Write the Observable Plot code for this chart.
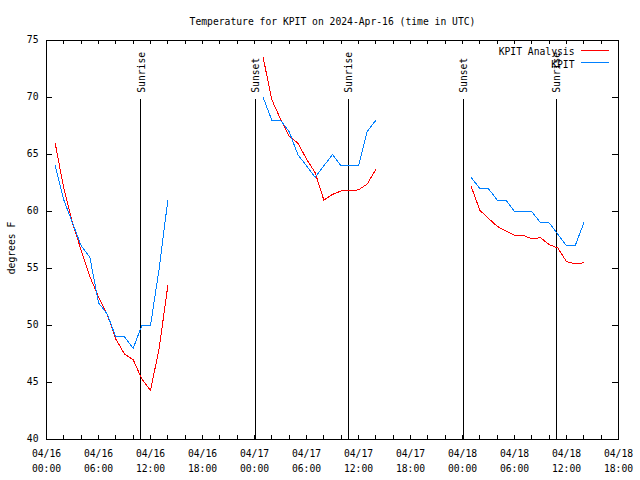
<!DOCTYPE html>
<html><head><meta charset="utf-8">
<script src="https://cdn.jsdelivr.net/npm/d3@7"></script>
<script src="https://cdn.jsdelivr.net/npm/@observablehq/plot@0.6"></script>
<style>body{margin:0;background:#fff} #chart{position:relative;width:640px;height:480px}</style>
</head><body><div id="chart"></div>
<script>
const times = [
 "2024-04-16T01:00Z","2024-04-16T02:00Z","2024-04-16T03:00Z","2024-04-16T04:00Z","2024-04-16T05:00Z","2024-04-16T06:00Z","2024-04-16T07:00Z",
 "2024-04-16T08:00Z","2024-04-16T09:00Z","2024-04-16T10:00Z","2024-04-16T11:00Z","2024-04-16T12:00Z","2024-04-16T13:00Z","2024-04-16T14:00Z",
 "2024-04-17T01:00Z","2024-04-17T02:00Z","2024-04-17T03:00Z","2024-04-17T04:00Z","2024-04-17T05:00Z","2024-04-17T06:00Z","2024-04-17T07:00Z",
 "2024-04-17T08:00Z","2024-04-17T09:00Z","2024-04-17T10:00Z","2024-04-17T11:00Z","2024-04-17T12:00Z","2024-04-17T13:00Z","2024-04-17T14:00Z",
 "2024-04-18T01:00Z","2024-04-18T02:00Z","2024-04-18T03:00Z","2024-04-18T04:00Z","2024-04-18T05:00Z","2024-04-18T06:00Z","2024-04-18T07:00Z",
 "2024-04-18T08:00Z","2024-04-18T09:00Z","2024-04-18T10:00Z","2024-04-18T11:00Z","2024-04-18T12:00Z","2024-04-18T13:00Z","2024-04-18T14:00Z"
];
const analysisTemps = [
 66.0, 62.0, 59.0, 56.6, 54.3, 52.5, 51.0, 48.8, 47.5, 47.0, 45.3, 44.3, 48.0, 53.5,
 73.5, 69.8, 68.1, 66.6, 66.0, 64.6, 63.4, 61.0, 61.5, 61.8, 61.8, 61.9, 62.4, 63.7,
 62.2, 60.1, 59.4, 58.7, 58.3, 57.9, 57.9, 57.6, 57.7, 57.1, 56.8, 55.6, 55.4, 55.5
];
const kpitTemps = [
 64, 61, 59, 57, 56, 52, 51, 49, 49, 48, 50, 50, 55, 61,
 70, 68, 68, 67, 65, 64, 63, 64, 65, 64, 64, 64, 67, 68,
 63, 62, 62, 61, 61, 60, 60, 60, 59, 59, 58, 57, 57, 59
];
const sunTimes = ["2024-04-16T10:52Z","2024-04-17T00:05Z","2024-04-17T10:48Z","2024-04-18T00:06Z","2024-04-18T10:49Z"];
const sunLabels = ["Sunrise","Sunset","Sunrise","Sunset","Sunrise"];
const yTicks = [40, 45, 50, 55, 60, 65, 70, 75];
const xLabelTimes = ["2024-04-16T00:00Z","2024-04-16T06:00Z","2024-04-16T12:00Z","2024-04-16T18:00Z",
 "2024-04-17T00:00Z","2024-04-17T06:00Z","2024-04-17T12:00Z","2024-04-17T18:00Z",
 "2024-04-18T00:00Z","2024-04-18T06:00Z","2024-04-18T12:00Z","2024-04-18T18:00Z"];
const legendLabels = ["KPIT Analysis", "KPIT"];
const seriesColors = ["#ff0000", "#0080ff"];
const titleText = "Temperature for KPIT on 2024-Apr-16 (time in UTC)";
const yLabel = "degrees F";

const rows = times.map((t, i) => ({time: new Date(t), day: t.slice(0, 10), analysis: analysisTemps[i], kpit: kpitTemps[i]}));
const sun = sunTimes.map((t, i) => ({time: new Date(t), label: sunLabels[i]}));
const W = 640, H = 480, mL = 46, mR = 22, mT = 40, mB = 41;
const fw = W - mL - mR, fh = H - mT - mB;
const x0 = new Date(xLabelTimes[0]), x1 = new Date(xLabelTimes[xLabelTimes.length - 1]);
const yDomain = [yTicks[0], yTicks[yTicks.length - 1]];
const tickTimes = d3.utcHour.every(2).range(x0, new Date(+x1 + 1000));
const fmt = d3.utcFormat("%m/%d\n%H:%M");
const crisp = {stroke: "#000", shapeRendering: "crispEdges"};

// legend sample placement: convert the legend box (frame-relative pixels) to data space
const sx = Plot.scale({x: {type: "utc", domain: [x0, x1], range: [mL, W - mR]}});
const sy = Plot.scale({y: {type: "linear", domain: yDomain, range: [H - mB, mT]}});
const legendRows = legendLabels.map((l, i) => ({
  x1: sx.invert(W - mR - 37), x2: sx.invert(W - mR - 9),
  y: sy.invert(mT + 9.5 + 12 * i), color: seriesColors[i]
}));

const svg = Plot.plot({
  width: W, height: H, marginLeft: mL, marginRight: mR, marginTop: mT, marginBottom: mB,
  style: {fontFamily: '"DejaVu Sans Mono", monospace', fontSize: "9.7px", background: "#fff", color: "#000"},
  x: {type: "utc", domain: [x0, x1]},
  y: {domain: yDomain},
  color: {type: "identity"},
  marks: [
    Plot.ruleX(tickTimes, {x: d => d, insetTop: fh - 4, ...crisp}),
    Plot.ruleX(tickTimes, {x: d => d, insetBottom: fh - 4, ...crisp}),
    Plot.ruleY(yTicks, {y: d => d, insetRight: fw - 6, ...crisp}),
    Plot.ruleY(yTicks, {y: d => d, insetLeft: fw - 6, ...crisp}),
    Plot.axisX(xLabelTimes.map(t => new Date(t)), {tickSize: 0, tickPadding: 8, tickFormat: fmt, lineHeight: 1.45, label: null}),
    Plot.axisY(yTicks, {tickSize: 0, tickPadding: 8, label: null, dy: -1}),
    Plot.text([yLabel], {frameAnchor: "left", text: d => d, rotate: -90, textAnchor: "middle", dx: -35, dy: 8}),
    Plot.text([titleText], {frameAnchor: "top", text: d => d, dy: -22}),
    Plot.ruleX(sun, {x: "time", y1: 40, y2: 69.8, ...crisp}),
    Plot.text(sun, {x: "time", y: 69.8, text: "label", rotate: -90, textAnchor: "start", dy: -7, dx: 1}),
    Plot.line(rows, {x: "time", y: "analysis", z: "day", stroke: seriesColors[0], strokeWidth: 1, shapeRendering: "crispEdges"}),
    Plot.line(rows, {x: "time", y: "kpit", z: "day", stroke: seriesColors[1], strokeWidth: 1, shapeRendering: "crispEdges"}),
    Plot.text([legendLabels[0]], {frameAnchor: "top-right", text: d => d, textAnchor: "end", dx: -44, dy: 8}),
    Plot.text([legendLabels[1]], {frameAnchor: "top-right", text: d => d, textAnchor: "end", dx: -44, dy: 20.5}),
    Plot.ruleY(legendRows, {y: "y", x1: "x1", x2: "x2", stroke: "color", strokeWidth: 1, shapeRendering: "crispEdges"}),
    Plot.frame(crisp)
  ]
});
document.getElementById("chart").append(svg);
</script>
</body></html>
